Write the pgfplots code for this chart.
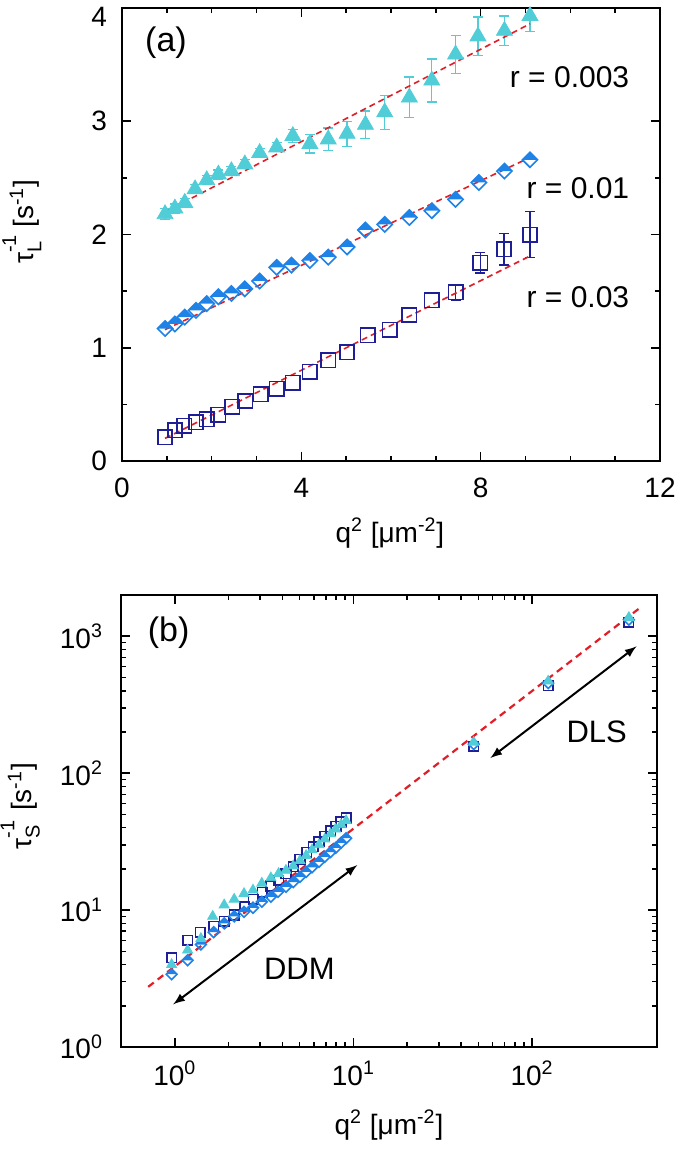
\documentclass[border=0pt]{standalone}
\usepackage{fontspec}
\setmainfont{Liberation Sans}
\usepackage{pgfplots}
\pgfplotsset{compat=1.18}
\definecolor{cyanT}{RGB}{80,205,215}
\definecolor{blueD}{RGB}{30,130,230}
\definecolor{navyS}{RGB}{30,30,150}
\definecolor{redL}{RGB}{225,30,40}

\pgfdeclareplotmark{halfdiamond}{%
  \pgfpathmoveto{\pgfqpoint{-\pgfplotmarksize}{0pt}}%
  \pgfpathlineto{\pgfqpoint{0pt}{\pgfplotmarksize}}%
  \pgfpathlineto{\pgfqpoint{\pgfplotmarksize}{0pt}}%
  \pgfpathclose
  \pgfusepathqfill
  \pgfpathmoveto{\pgfqpoint{-\pgfplotmarksize}{0pt}}%
  \pgfpathlineto{\pgfqpoint{0pt}{\pgfplotmarksize}}%
  \pgfpathlineto{\pgfqpoint{\pgfplotmarksize}{0pt}}%
  \pgfpathlineto{\pgfqpoint{0pt}{-\pgfplotmarksize}}%
  \pgfpathclose
  \pgfusepathqstroke
}

\newcommand{\taulab}[1]{τ\makebox[0pt][l]{\raisebox{0.62em}{\fontsize{10}{10}\selectfont -1}}\raisebox{-0.28em}{\fontsize{10}{10}\selectfont #1}\hspace{0.5em}[s\textsuperscript{-1}]}

\pgfplotsset{
  common/.style={
    scale only axis,
    anchor=south west,
    tick align=inside,
    axis line style={line width=1pt},
    every tick/.style={black, line width=0.8pt},
    major tick length=4.5pt,
    minor tick length=2.5pt,
    tick label style={font=\fontsize{14}{16}\selectfont},
    label style={font=\fontsize{14}{16}\selectfont},
    /pgf/number format/assume math mode=true,
  },
  ebar/.style={
    error bars/.cd, y dir=both, y explicit,
    error bar style={line width=0.6pt},
    error mark options={rotate=90, mark size=2.5pt, line width=0.6pt},
  },
}

\begin{document}
\begin{tikzpicture}
% ---------------- panel (a)
\begin{axis}[common,
  at={(61pt,-230.5pt)}, width=269pt, height=226.5pt,
  xmin=0, xmax=12, ymin=0, ymax=4,
  xtick={0,4,8,12}, ytick={0,1,2,3},
  extra y ticks={4},
  extra y tick style={yticklabel style={yshift=-4.5pt}},
  minor x tick num=3, minor y tick num=1,
  xticklabel style={yshift=-5pt},
  yticklabel style={xshift=-4pt},
  xlabel={q\textsuperscript{2} [μm\textsuperscript{-2}]},
  ylabel={\taulab{L}},
  xlabel style={at={(axis description cs:0.498,-0.159)}, anchor=center},
  ylabel style={at={(axis description cs:-0.186,0.528)}, anchor=center},
]
\addplot[only marks, mark=square, mark size=3.6pt, navyS, line width=0.8pt]
  table {
0.96 0.21
1.18 0.27
1.39 0.31
1.65 0.34
1.89 0.37
2.15 0.41
2.46 0.48
2.75 0.53
3.09 0.59
3.45 0.64
3.81 0.69
4.19 0.79
4.60 0.89
5.02 0.96
5.48 1.11
5.97 1.16
6.41 1.29
6.91 1.42
};
\addplot[only marks, mark=square, mark size=3.6pt, navyS, line width=0.8pt, ebar]
  table[x index=0, y index=1, y error index=2] {
7.44 1.49 0.07
7.99 1.75 0.09
8.52 1.87 0.14
9.10 2.00 0.20
};
\addplot[only marks, mark=halfdiamond, mark size=3.8pt, blueD, line width=0.8pt,
  mark options={draw=blueD, fill=blueD}]
  table {
0.96 1.17
1.18 1.21
1.40 1.27
1.65 1.33
1.89 1.39
2.15 1.45
2.44 1.48
2.74 1.52
3.07 1.59
3.45 1.71
3.78 1.73
4.19 1.77
4.60 1.80
5.02 1.89
5.43 2.04
5.86 2.09
6.41 2.15
6.91 2.21
7.44 2.31
7.96 2.46
8.53 2.56
9.10 2.66
};
\addplot[only marks, mark=triangle*, mark size=4.6pt, cyanT,
  mark options={draw=cyanT, fill=cyanT}, ebar]
  table[x index=0, y index=1, y error index=2] {
0.96 2.18 0.05
1.18 2.23 0.04
1.40 2.28 0.04
1.63 2.40 0.04
1.89 2.48 0.04
2.15 2.53 0.04
2.44 2.56 0.04
2.74 2.62 0.04
3.07 2.72 0.04
3.45 2.77 0.04
3.81 2.87 0.06
4.19 2.80 0.08
4.60 2.84 0.10
5.02 2.89 0.11
5.43 2.97 0.12
5.86 3.08 0.15
6.41 3.21 0.18
6.91 3.36 0.19
7.44 3.59 0.17
7.94 3.75 0.17
8.53 3.80 0.13
9.10 3.93 0.14
};
\addplot[redL, line width=0.8pt, dash pattern=on 3pt off 2pt] coordinates {(0.96,0.20) (9.10,1.81)};
\addplot[redL, line width=0.8pt, dash pattern=on 3pt off 2pt] coordinates {(0.96,1.16) (9.10,2.68)};
\addplot[redL, line width=0.8pt, dash pattern=on 3pt off 2pt] coordinates {(0.96,2.20) (9.10,3.86)};
\node[anchor=east, font=\fontsize{15}{18}\selectfont] at (axis cs:11.47,3.39) {r = 0.003};
\node[anchor=east, font=\fontsize{15}{18}\selectfont] at (axis cs:11.47,2.41) {r = 0.01};
\node[anchor=east, font=\fontsize{15}{18}\selectfont] at (axis cs:11.47,1.45) {r = 0.03};
\node[anchor=west, font=\fontsize{17}{20}\selectfont] at (rel axis cs:0.03,0.923) {(a)};
\end{axis}
% ---------------- panel (b)
\begin{axis}[common,
  at={(60.5pt,-523.5pt)}, width=268pt, height=226pt,
  xmode=log, ymode=log,
  xmin=0.5, xmax=500, ymin=1, ymax=2000,
  xtick={1,10,100}, xticklabels={10\textsuperscript{0},10\textsuperscript{1},10\textsuperscript{2}},
  ytick={1,10,100,1000}, yticklabels={10\textsuperscript{0},10\textsuperscript{1},10\textsuperscript{2},10\textsuperscript{3}},
  xticklabel style={yshift=-3.5pt},
  yticklabel style={xshift=-5.5pt},
  xlabel={q\textsuperscript{2} [μm\textsuperscript{-2}]},
  ylabel={\taulab{S}},
  xlabel style={at={(axis description cs:0.5,-0.173)}, anchor=center},
  ylabel style={at={(axis description cs:-0.188,0.533)}, anchor=center},
]
\addplot[only marks, mark=square, mark size=2.4pt, navyS, line width=0.8pt]
  table {
0.96 4.5
1.18 6.0
1.39 6.9
1.65 7.6
1.89 8.3
2.15 9.2
2.46 10.6
2.75 12.0
3.09 13.5
3.45 15.0
3.81 16.5
4.19 18.5
4.60 20.8
5.02 23.5
5.48 26.5
5.97 29.0
6.41 31.5
6.91 34.5
7.44 38.0
7.99 41.0
8.52 44.0
9.10 47.0
47.1 157
123 435
348 1264
};
\addplot[only marks, mark=halfdiamond, mark size=2.7pt, blueD, line width=0.8pt,
  mark options={draw=blueD, fill=blueD}]
  table {
0.96 3.4
1.18 4.3
1.40 5.6
1.65 6.9
1.89 8.0
2.15 9.0
2.44 9.7
2.74 10.4
3.07 11.5
3.45 12.5
3.78 13.6
4.19 14.8
4.60 16.0
5.02 17.5
5.43 19.0
5.86 20.5
6.41 22.5
6.91 24.5
7.44 26.5
7.96 28.5
8.53 31.0
9.10 33.5
47.1 163
123 455
348 1320
};
\addplot[only marks, mark=triangle*, mark size=2.9pt, cyanT,
  mark options={draw=cyanT, fill=cyanT}]
  table {
0.96 4.0
1.18 5.1
1.40 6.2
1.63 9.0
1.89 10.9
2.15 12.0
2.44 13.2
2.74 14.0
3.07 15.7
3.45 17.2
3.81 18.5
4.19 19.5
4.60 21.0
5.02 23.0
5.43 25.0
5.86 27.5
6.41 30.0
6.91 33.0
7.44 36.0
7.94 39.0
8.53 42.0
9.10 45.0
47.1 168
123 470
348 1370
};
\addplot[redL, line width=1.1pt, dash pattern=on 3.5pt off 2.5pt] coordinates {(0.71,2.75) (401,1610)};
\draw[<->, >=latex, line width=1pt] (axis cs:0.98,2.05) -- (axis cs:10.5,21.3);
\draw[<->, >=latex, line width=1pt] (axis cs:58.4,129) -- (axis cs:384,844);
\node[font=\fontsize{15.5}{18}\selectfont] at (axis cs:4.98,3.75) {DDM};
\node[font=\fontsize{15.5}{18}\selectfont] at (axis cs:230,201) {DLS};
\node[anchor=west, font=\fontsize{17}{20}\selectfont] at (rel axis cs:0.037,0.916) {(b)};
\end{axis}
\pgfresetboundingbox
\path[use as bounding box] (0pt,0pt) rectangle (337.5pt,-575pt);
\end{tikzpicture}
\end{document}
